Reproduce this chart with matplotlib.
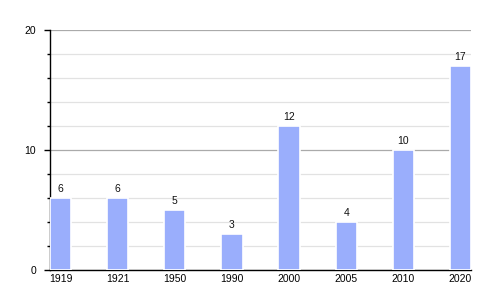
import matplotlib
matplotlib.use("Agg")
import matplotlib.pyplot as plt
from matplotlib.ticker import MultipleLocator
import numpy as np

anos = ["1919", "1921", "1950", "1990", "2000", "2005", "2010", "2020"]
valores = [6, 6, 5, 3, 12, 4, 10, 17]

plt.rcParams["font.family"] = ["Liberation Sans", "DejaVu Sans"]

fig = plt.figure(figsize=(5, 3), dpi=100)
ax = fig.add_axes([0.1, 0.1, 0.842, 0.8])

largura = 0.37
x = np.arange(len(anos))
barras = ax.bar(x, valores, width=largura, color="#9aaefc",
                edgecolor="white", linewidth=1.2, zorder=3)

for xi, v in zip(x, valores):
    ax.annotate(str(v), (xi, v), xytext=(0, 3), textcoords="offset points",
                ha="center", va="bottom", fontsize=7.5, color="#111111")

ax.set_xlim(-largura / 2, len(anos) - 1 + largura / 2)
ax.set_ylim(0, 20)
ax.set_xticks(x)
ax.set_xticklabels(anos)
ax.yaxis.set_major_locator(MultipleLocator(10))
ax.yaxis.set_minor_locator(MultipleLocator(2))

ax.grid(axis="y", which="major", color="#aaaaaa", linewidth=0.9, zorder=0)
ax.grid(axis="y", which="minor", color="#e2e2e2", linewidth=0.9, zorder=0)
ax.set_axisbelow(True)

for lado in ["top", "right"]:
    ax.spines[lado].set_visible(False)
ax.spines["left"].set_linewidth(1.0)
ax.spines["bottom"].set_linewidth(1.0)

ax.tick_params(axis="y", which="major", length=4, width=1, pad=6, labelsize=7.5)
ax.tick_params(axis="y", which="minor", length=2, width=1)
ax.tick_params(axis="x", length=0, pad=3, labelsize=7.5)

fig.savefig("out.png", dpi=100)
